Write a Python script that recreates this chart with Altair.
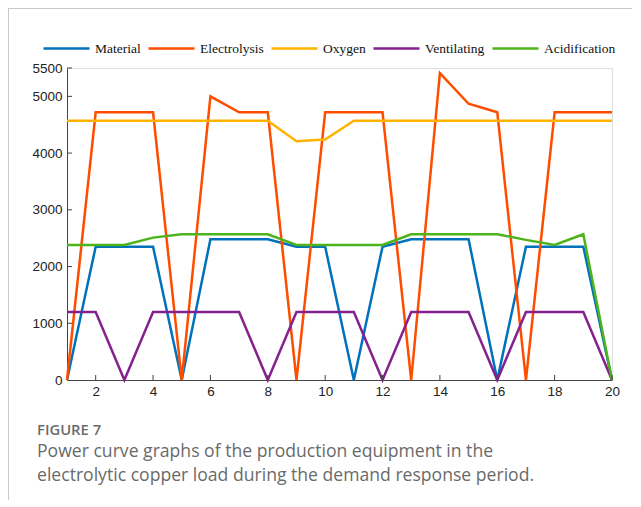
import altair as alt
import pandas as pd

x_vals = list(range(1, 21))
series_names = ["Material", "Electrolysis", "Oxygen", "Ventilating", "Acidification"]
colors = ["#0072BD", "#FF4D00", "#FFB300", "#85208F", "#4DB31A"]

material = [0, 2350, 2350, 2350, 0, 2480, 2480, 2480, 2350, 2350,
            0, 2350, 2480, 2480, 2480, 0, 2350, 2350, 2350, 0]
electrolysis = [0, 4720, 4720, 4720, 0, 5000, 4720, 4720, 0, 4720,
                4720, 4720, 0, 5410, 4870, 4720, 0, 4720, 4720, 4720]
oxygen = [4570, 4570, 4570, 4570, 4570, 4570, 4570, 4570, 4210, 4240,
          4570, 4570, 4570, 4570, 4570, 4570, 4570, 4570, 4570, 4570]
ventilating = [1200, 1200, 0, 1200, 1200, 1200, 1200, 0, 1200, 1200,
               1200, 0, 1200, 1200, 1200, 0, 1200, 1200, 1200, 0]
acidification = [2380, 2380, 2380, 2510, 2570, 2570, 2570, 2570, 2380, 2380,
                 2380, 2380, 2570, 2570, 2570, 2570, 2470, 2380, 2570, 0]

x_ticks = [2, 4, 6, 8, 10, 12, 14, 16, 18, 20]
y_ticks = [0, 1000, 2000, 3000, 4000, 5000, 5500]

caption_label = "FIGURE 7"
caption_lines = ["Power curve graphs of the production equipment in the",
                 "electrolytic copper load during the demand response period."]

all_series = [material, electrolysis, oxygen, ventilating, acidification]
rows = []
for name, vals in zip(series_names, all_series):
    for xv, yv in zip(x_vals, vals):
        rows.append({"x": xv, "value": yv, "series": name})
df = pd.DataFrame(rows)

W, H = 545, 312

xscale = alt.Scale(domain=[1, 20], nice=False, zero=False)
yscale = alt.Scale(domain=[0, 5500], nice=False)

x_axis = alt.Axis(values=x_ticks, ticks=False, grid=False, labelPadding=4, format="d",
                  title=None, domainColor="#444444", labelColor="#222222",
                  labelFontSize=13.5, labelFont="Liberation Sans", labelFlush=False)
y_axis = alt.Axis(values=y_ticks, ticks=False, grid=False, labelPadding=5, format="d",
                  title=None, domainColor="#444444", labelColor="#222222",
                  labelFontSize=13.5, labelFont="Liberation Sans")

lines = alt.Chart(df).mark_line(strokeWidth=2.5, clip=False).encode(
    x=alt.X("x:Q", scale=xscale, title=None, axis=x_axis),
    y=alt.Y("value:Q", scale=yscale, title=None, axis=y_axis),
    color=alt.Color("series:N",
                    scale=alt.Scale(domain=series_names, range=colors),
                    sort=series_names,
                    legend=alt.Legend(title=None, orient="none", direction="horizontal",
                                      legendX=-25, legendY=-44,
                                      symbolType="stroke", symbolSize=2116,
                                      symbolStrokeWidth=2.5, labelFont="Liberation Serif",
                                      labelFontSize=13.5, labelColor="#111111",
                                      labelOffset=4, columnPadding=2)),
    order=alt.Order("x:Q"),
)

xt = alt.Chart(pd.DataFrame({"x": x_ticks})).mark_rule(color="#444444", strokeWidth=1).encode(
    x=alt.X("x:Q", scale=xscale, title=None, axis=x_axis), y=alt.value(H), y2=alt.value(H - 5))
yt = alt.Chart(pd.DataFrame({"value": y_ticks[1:]})).mark_rule(color="#444444", strokeWidth=1).encode(
    y=alt.Y("value:Q", scale=yscale, title=None, axis=y_axis), x=alt.value(0), x2=alt.value(5))

top_border = alt.Chart(pd.DataFrame({"a": [0]})).mark_rule(color="#c8c8c8", strokeWidth=1).encode(
    x=alt.value(-59), x2=alt.value(570), y=alt.value(-59.5))
left_border = alt.Chart(pd.DataFrame({"a": [0]})).mark_rule(color="#c8c8c8", strokeWidth=1).encode(
    x=alt.value(-58.5), y=alt.value(-60), y2=alt.value(440))

fig_label = alt.Chart(pd.DataFrame({"t": [caption_label]})).mark_text(
    align="left", baseline="middle", fontSize=14.8, font="Open Sans", fontWeight=600,
    color="#6b6b6b").encode(text="t:N", x=alt.value(-30), y=alt.value(363))

cap1 = alt.Chart(pd.DataFrame({"t": [caption_lines[0]]})).mark_text(
    align="left", baseline="middle", fontSize=17.6, font="Open Sans",
    color="#6a6a6a").encode(text="t:N", x=alt.value(-30), y=alt.value(384))
cap2 = alt.Chart(pd.DataFrame({"t": [caption_lines[1]]})).mark_text(
    align="left", baseline="middle", fontSize=17.6, font="Open Sans",
    color="#6a6a6a").encode(text="t:N", x=alt.value(-30), y=alt.value(408))

chart = alt.layer(lines, xt, yt, top_border, left_border, fig_label, cap1, cap2).properties(
    width=W, height=H,
    padding={"left": 59, "top": 60, "right": 20, "bottom": 120},
    autosize=alt.AutoSizeParams(type="none"),
).configure_view(stroke=None).configure(background="white").configure_axis(
    labelFont="Liberation Sans", labelFontSize=13.5, labelColor="#222222"
)

chart.save("out.html", embed_options={"renderer": "svg", "actions": False})
